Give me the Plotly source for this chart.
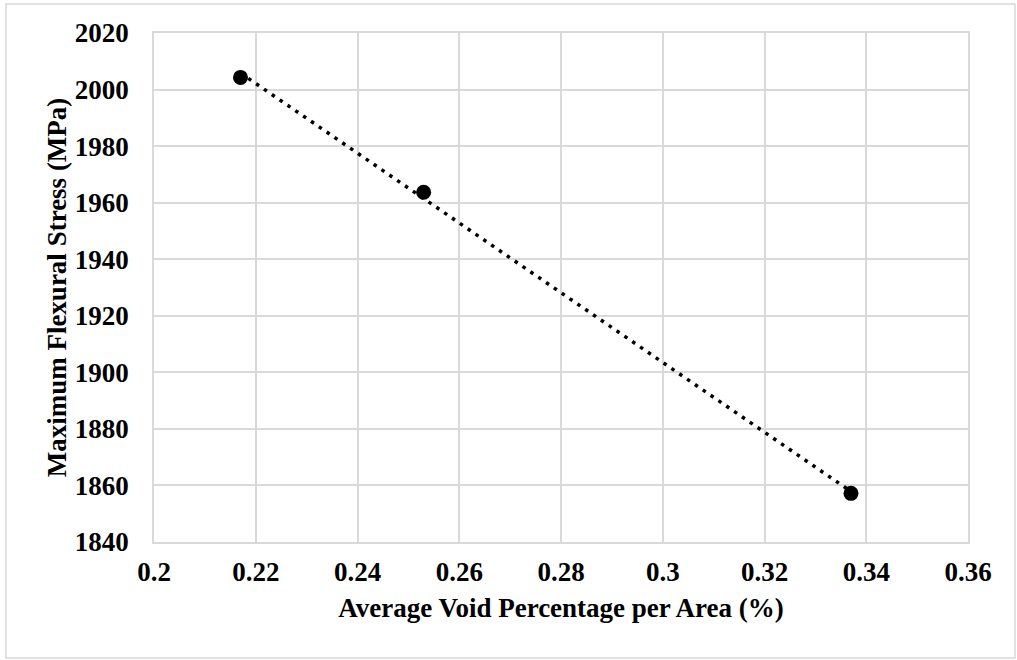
import numpy as np
import plotly.graph_objects as go

# Data
void_pct = [0.217, 0.253, 0.337]
flex_stress = [2004.3, 1963.7, 1857.2]

x_ticks = [0.2, 0.22, 0.24, 0.26, 0.28, 0.3, 0.32, 0.34, 0.36]
x_tick_labels = ["0.2", "0.22", "0.24", "0.26", "0.28", "0.3", "0.32", "0.34", "0.36"]
y_ticks = [1840, 1860, 1880, 1900, 1920, 1940, 1960, 1980, 2000, 2020]

# Linear trendline fitted to the data
slope, intercept = np.polyfit(void_pct, flex_stress, 1)
trend_x = [min(void_pct), max(void_pct)]
trend_y = [slope * v + intercept for v in trend_x]

FONT = "Liberation Serif"
GRID = "#d9d9d9"
FS = 27

fig = go.Figure()
fig.add_trace(go.Scatter(
    x=trend_x, y=trend_y, mode="lines",
    line=dict(color="black", width=3.5, dash="3.5px,6px"),
    hoverinfo="skip", showlegend=False,
))
fig.add_trace(go.Scatter(
    x=void_pct, y=flex_stress, mode="markers",
    marker=dict(color="black", size=15),
    showlegend=False,
))

L, R, T, B = 154, 49, 33, 118
W, H = 1017, 660
pw, ph = W - L - R, H - T - B

fig.update_layout(
    width=W, height=H,
    margin=dict(l=L, r=R, t=T, b=B),
    paper_bgcolor="white", plot_bgcolor="white",
    font=dict(family=FONT, size=FS, color="black"),
    xaxis=dict(
        range=[0.2, 0.36], tickvals=x_ticks, ticktext=x_tick_labels,
        showgrid=True, gridcolor=GRID, gridwidth=1.5,
        showline=True, linecolor=GRID, linewidth=1.5, mirror=True,
        zeroline=False, ticks="", ticklabelstandoff=5,
        tickfont=dict(family=FONT, size=FS, color="black", weight="bold"),
        title=dict(text="<b>Average Void Percentage per Area (%)</b>",
                   font=dict(family=FONT, size=FS, color="black"), standoff=12),
    ),
    yaxis=dict(
        range=[1840, 2020], tickvals=y_ticks,
        showgrid=True, gridcolor=GRID, gridwidth=1.5,
        showline=True, linecolor=GRID, linewidth=1.5, mirror=True,
        zeroline=False, ticks="", ticklabelstandoff=18,
        tickfont=dict(family=FONT, size=FS, color="black", weight="bold"),
        title=dict(text="<b>Maximum Flexural Stress (MPa)</b>",
                   font=dict(family=FONT, size=FS, color="black"), standoff=0),
    ),
    shapes=[dict(
        type="rect", xref="paper", yref="paper",
        x0=(6 - L) / pw, x1=(1015 - L) / pw,
        y0=(H - B - 658) / ph, y1=(H - B - 4) / ph,
        line=dict(color="#d9d9d9", width=1.5), fillcolor="rgba(0,0,0,0)",
        layer="below",
    )],
)

fig.write_html("out.html")
